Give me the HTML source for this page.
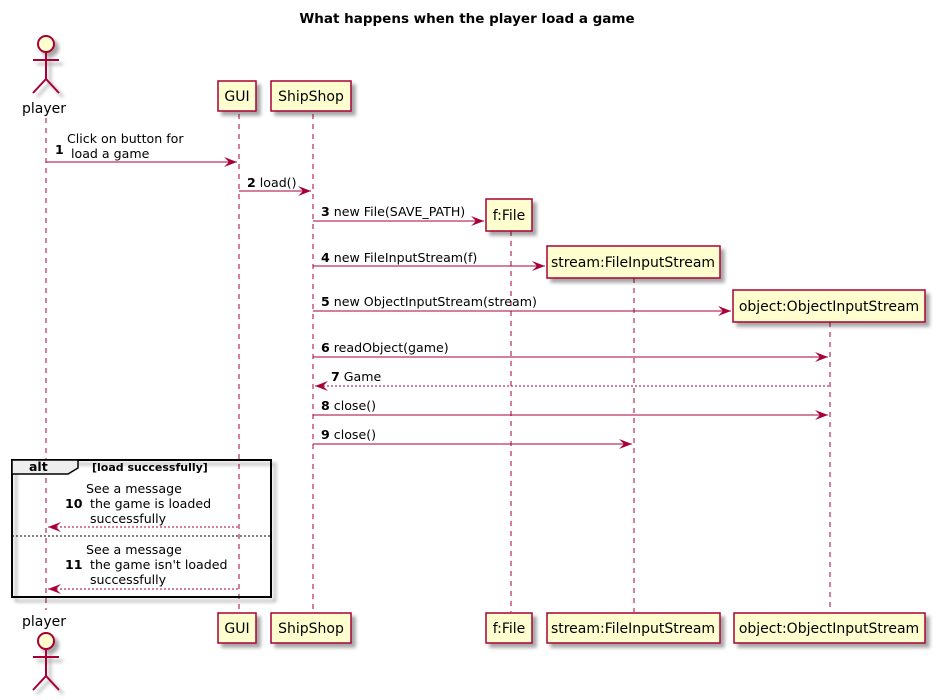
<!DOCTYPE html>
<html><head><meta charset="utf-8"><style>
html,body{margin:0;padding:0;background:#fff;}
svg{display:block;}
text{font-family:"DejaVu Sans","Liberation Sans",sans-serif;fill:#000;}
.m{font-size:12.6px;}
.b{font-weight:bold;}
.p{font-size:14px;}
</style></head><body>
<svg width="935" height="700" viewBox="0 0 935 700" xmlns="http://www.w3.org/2000/svg">
<defs>
<filter id="sh" x="-20%" y="-20%" width="150%" height="150%"><feGaussianBlur in="SourceAlpha" stdDeviation="1.8"/><feOffset dx="4" dy="4"/><feComponentTransfer><feFuncA type="linear" slope="0.35"/></feComponentTransfer><feMerge><feMergeNode/><feMergeNode in="SourceGraphic"/></feMerge></filter>
</defs>
<text x="467" y="23" text-anchor="middle" font-size="13.5" font-weight="bold">What happens when the player load a game</text>

<g stroke="#A80036" stroke-width="1" stroke-dasharray="5,5">
<line x1="46" y1="118" x2="46" y2="610"/>
<line x1="239" y1="114" x2="239" y2="612"/>
<line x1="313" y1="114" x2="313" y2="612"/>
<line x1="511" y1="231" x2="511" y2="612"/>
<line x1="634" y1="278" x2="634" y2="612"/>
<line x1="830" y1="322" x2="830" y2="612"/>
</g>

<g stroke="#A80036" stroke-width="2" fill="none" filter="url(#sh)">
<circle cx="46" cy="44" r="8" fill="#FEFECE"/>
<line x1="46" y1="52" x2="46" y2="79"/>
<line x1="33" y1="60" x2="59" y2="60"/>
<polyline points="33,93 46,79 59,93"/>
</g>
<text x="44" y="113" class="p" text-anchor="middle">player</text>
<text x="44" y="626" class="p" text-anchor="middle">player</text>
<g stroke="#A80036" stroke-width="2" fill="none" filter="url(#sh)">
<circle cx="46" cy="641" r="8" fill="#FEFECE"/>
<line x1="46" y1="649" x2="46" y2="676"/>
<line x1="33" y1="657" x2="59" y2="657"/>
<polyline points="33,690 46,676 59,690"/>
</g>

<g fill="#FEFECE" stroke="#A80036" stroke-width="1.5" filter="url(#sh)">
<rect x="218" y="81" width="38" height="30"/>
<rect x="271" y="81" width="80" height="30"/>
<rect x="486" y="199" width="46" height="32"/>
<rect x="547" y="246" width="173" height="32"/>
<rect x="733" y="290" width="192" height="32"/>
<rect x="218" y="613" width="38" height="30"/>
<rect x="271" y="613" width="80" height="30"/>
<rect x="486" y="613" width="46" height="30"/>
<rect x="547" y="613" width="173" height="30"/>
<rect x="734" y="613" width="191" height="30"/>
</g>
<g class="p" text-anchor="middle">
<text x="237" y="101">GUI</text>
<text x="311" y="101">ShipShop</text>
<text x="509" y="220">f:File</text>
<text x="633" y="267">stream:FileInputStream</text>
<text x="829" y="311">object:ObjectInputStream</text>
<text x="237" y="633">GUI</text>
<text x="311" y="633">ShipShop</text>
<text x="509" y="633">f:File</text>
<text x="633" y="633">stream:FileInputStream</text>
<text x="829" y="633">object:ObjectInputStream</text>
</g>

<g filter="url(#sh)">
<rect x="12" y="460" width="259" height="137" fill="none" stroke="#000" stroke-width="2"/>
</g>
<path d="M12,460 H78 V468 L68,474 H12 Z" fill="#EEEEEE" stroke="#000" stroke-width="1.5"/>
<text x="29" y="471" font-size="12.5" font-weight="bold">alt</text>
<text x="92" y="471" font-size="11" font-weight="bold">[load successfully]</text>
<line x1="12" y1="536" x2="271" y2="536" stroke="#000" stroke-width="1" stroke-dasharray="2,2"/>

<g stroke="#A80036" stroke-width="1" fill="none">
<line x1="46" y1="162" x2="237" y2="162"/>
<line x1="239" y1="191" x2="311" y2="191"/>
<line x1="313" y1="221" x2="484" y2="221"/>
<line x1="313" y1="266" x2="545" y2="266"/>
<line x1="313" y1="311" x2="731" y2="311"/>
<line x1="313" y1="357" x2="828" y2="357"/>
<line x1="315" y1="386" x2="830" y2="386" stroke-dasharray="2,2"/>
<line x1="313" y1="415" x2="828" y2="415"/>
<line x1="313" y1="444" x2="632" y2="444"/>
<line x1="48" y1="527" x2="239" y2="527" stroke-dasharray="2,2"/>
<line x1="48" y1="589" x2="239" y2="589" stroke-dasharray="2,2"/>
</g>
<g fill="#A80036">
<polygon points="237,162 224,157 229,162 224,167"/>
<polygon points="311,191 298,186 303,191 298,196"/>
<polygon points="484,221 471,216 476,221 471,226"/>
<polygon points="545,266 532,261 537,266 532,271"/>
<polygon points="731,311 718,306 723,311 718,316"/>
<polygon points="828,357 815,352 820,357 815,362"/>
<polygon points="315,386 328,381 323,386 328,391"/>
<polygon points="828,415 815,410 820,415 815,420"/>
<polygon points="632,444 619,439 624,444 619,449"/>
<polygon points="48,527 61,522 56,527 61,532"/>
<polygon points="48,589 61,584 56,589 61,594"/>
</g>

<g class="m">
<text x="55" y="154" class="b">1</text>
<text x="67" y="143">Click on button for</text>
<text x="71" y="158">load a game</text>
<text x="247" y="187"><tspan class="b">2</tspan> load()</text>
<text x="321" y="216"><tspan class="b">3</tspan> new File(SAVE_PATH)</text>
<text x="321" y="262"><tspan class="b">4</tspan> new FileInputStream(f)</text>
<text x="321" y="306"><tspan class="b">5</tspan> new ObjectInputStream(stream)</text>
<text x="321" y="352"><tspan class="b">6</tspan> readObject(game)</text>
<text x="331" y="381"><tspan class="b">7</tspan> Game</text>
<text x="321" y="410"><tspan class="b">8</tspan> close()</text>
<text x="321" y="439"><tspan class="b">9</tspan> close()</text>
<text x="86" y="493">See a message</text>
<text x="65" y="508" class="b">10</text>
<text x="90" y="508">the game is loaded</text>
<text x="90" y="523">successfully</text>
<text x="86" y="554">See a message</text>
<text x="65" y="569" class="b">11</text>
<text x="90" y="569">the game isn't loaded</text>
<text x="90" y="584">successfully</text>
</g>
</svg>
</body></html>
